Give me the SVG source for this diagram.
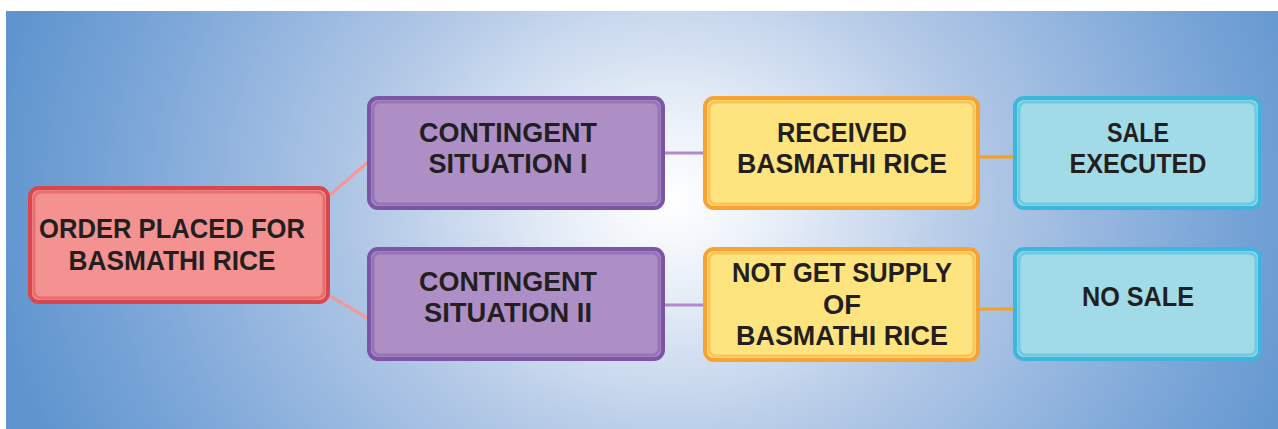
<svg xmlns="http://www.w3.org/2000/svg" width="1278" height="429" viewBox="0 0 1278 429">
<defs>
<radialGradient id="bg" gradientUnits="userSpaceOnUse" cx="670" cy="200" r="680" gradientTransform="translate(670 200) scale(1 0.85) translate(-670 -200)">
<stop offset="0" stop-color="#ffffff"/>
<stop offset="0.12" stop-color="#eef3fa"/>
<stop offset="0.45" stop-color="#b2c8e6"/>
<stop offset="0.8" stop-color="#7ba6d8"/>
<stop offset="1" stop-color="#5f95ce"/>
</radialGradient>
<style>
.t{font-family:"Liberation Sans",Arial,sans-serif;font-weight:700;font-size:27px;fill:#231f20;text-anchor:middle}
.red{fill:#f49292;stroke:#d8474b;stroke-width:4}
.red2{fill:none;stroke:#ea6e70;stroke-width:3}
.pur{fill:#ae8fc5;stroke:#7b55a6;stroke-width:4}
.pur2{fill:none;stroke:#9574b8;stroke-width:3}
.yel{fill:#fde47f;stroke:#f7a331;stroke-width:4}
.yel2{fill:none;stroke:#fbc35b;stroke-width:3}
.blu{fill:#a1dbe8;stroke:#3cb7db;stroke-width:4}
.blu2{fill:none;stroke:#6fc9e2;stroke-width:3}
</style>
</defs>
<rect x="6" y="11" width="1272" height="418" fill="url(#bg)"/>
<g id="connectors" fill="none">
<line x1="330" y1="195" x2="369" y2="161" stroke="#f59797" stroke-width="3"/>
<line x1="330" y1="296" x2="369" y2="319" stroke="#f59797" stroke-width="3"/>
<line x1="665" y1="153" x2="704" y2="153" stroke="#b08bcb" stroke-width="3"/>
<line x1="665" y1="305" x2="704" y2="305" stroke="#b08bcb" stroke-width="3"/>
<line x1="980" y1="157" x2="1014" y2="157" stroke="#f8a01c" stroke-width="3"/>
<line x1="980" y1="309" x2="1014" y2="309" stroke="#f8a01c" stroke-width="3"/>
</g>
<g id="order">
<rect class="red" x="30" y="188" width="298" height="114" rx="9"/>
<rect class="red2" x="34" y="192" width="290" height="106" rx="7"/>
<text class="t" x="172" y="238" style="font-size:28px" textLength="266" lengthAdjust="spacingAndGlyphs">ORDER PLACED FOR</text>
<text class="t" x="172" y="270" style="font-size:28px" textLength="207" lengthAdjust="spacingAndGlyphs">BASMATHI RICE</text>
</g>
<g id="contingent1">
<rect class="pur" x="369" y="98" width="294" height="110" rx="9"/>
<rect class="pur2" x="373" y="102" width="286" height="102" rx="7"/>
<text class="t" x="508" y="142" textLength="178" lengthAdjust="spacingAndGlyphs">CONTINGENT</text>
<text class="t" x="508" y="173" textLength="159" lengthAdjust="spacingAndGlyphs">SITUATION I</text>
</g>
<g id="contingent2">
<rect class="pur" x="369" y="249" width="294" height="110" rx="9"/>
<rect class="pur2" x="373" y="253" width="286" height="102" rx="7"/>
<text class="t" x="508" y="291" textLength="178" lengthAdjust="spacingAndGlyphs">CONTINGENT</text>
<text class="t" x="508" y="322" textLength="168" lengthAdjust="spacingAndGlyphs">SITUATION II</text>
</g>
<g id="received">
<rect class="yel" x="705" y="98" width="273" height="110" rx="9"/>
<rect class="yel2" x="709" y="102" width="265" height="102" rx="7"/>
<text class="t" x="842" y="142" textLength="130" lengthAdjust="spacingAndGlyphs">RECEIVED</text>
<text class="t" x="842" y="173" textLength="210" lengthAdjust="spacingAndGlyphs">BASMATHI RICE</text>
</g>
<g id="notget">
<rect class="yel" x="705" y="249" width="273" height="111" rx="9"/>
<rect class="yel2" x="709" y="253" width="265" height="103" rx="7"/>
<text class="t" x="842" y="282" textLength="220" lengthAdjust="spacingAndGlyphs">NOT GET SUPPLY</text>
<text class="t" x="842" y="314" textLength="38" lengthAdjust="spacingAndGlyphs">OF</text>
<text class="t" x="842" y="345" textLength="212" lengthAdjust="spacingAndGlyphs">BASMATHI RICE</text>
</g>
<g id="sale">
<rect class="blu" x="1015" y="98" width="245" height="110" rx="9"/>
<rect class="blu2" x="1019" y="102" width="237" height="102" rx="7"/>
<text class="t" x="1138" y="142" textLength="62" lengthAdjust="spacingAndGlyphs">SALE</text>
<text class="t" x="1138" y="173" textLength="137" lengthAdjust="spacingAndGlyphs">EXECUTED</text>
</g>
<g id="nosale">
<rect class="blu" x="1015" y="249" width="245" height="110" rx="9"/>
<rect class="blu2" x="1019" y="253" width="237" height="102" rx="7"/>
<text class="t" x="1138" y="306" textLength="112" lengthAdjust="spacingAndGlyphs">NO SALE</text>
</g>
</svg>
